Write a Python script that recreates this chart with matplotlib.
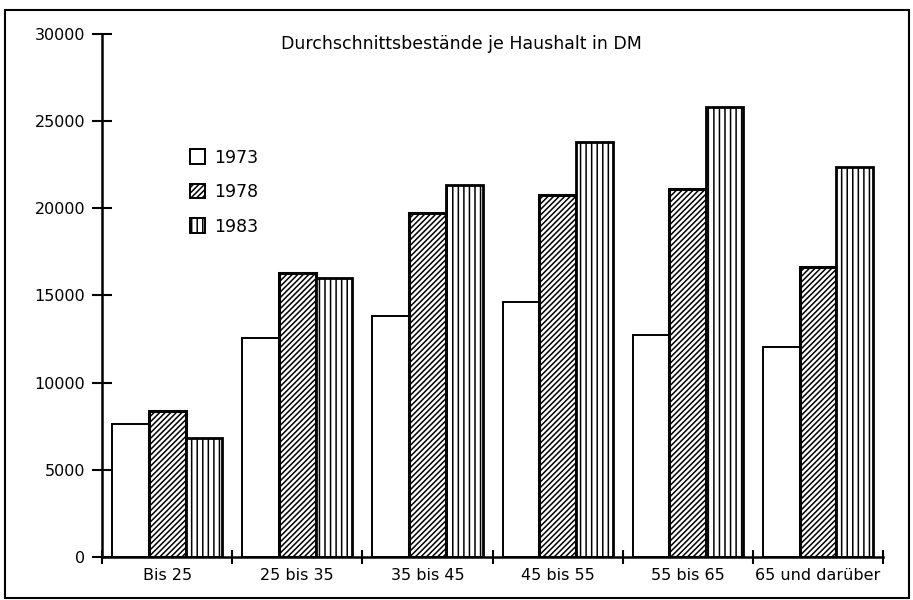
import matplotlib
matplotlib.use("Agg")
import matplotlib.pyplot as plt
import matplotlib.patches as mpatches
import numpy as np

# Durchschnittsbestände je Haushalt in DM, nach Alter
groups = ["Bis 25", "25 bis 35", "35 bis 45", "45 bis 55", "55 bis 65", "65 und darüber"]
years = ["1973", "1978", "1983"]
v1973 = [7650, 12550, 13820, 14620, 12730, 12040]
v1978 = [8400, 16280, 19730, 20760, 21100, 16630]
v1983 = [6800, 16000, 21330, 23800, 25800, 22360]
yticks = [0, 5000, 10000, 15000, 20000, 25000, 30000]

plt.rcParams['hatch.linewidth'] = 1.1
plt.rcParams['font.family'] = ['DejaVu Sans']

fig = plt.figure(figsize=(9.13, 6.0), dpi=100)
ax = fig.add_axes([102 / 913, 43 / 600, 781 / 913, 523 / 600])

x = np.arange(len(groups))
w = 36.7 / 130
off = 10 / 130
styles = [dict(hatch=None, lw=1.4),
          dict(hatch='//////', lw=2.2),
          dict(hatch='|||', lw=2.0)]
for k, vals in enumerate([v1973, v1978, v1983]):
    ax.bar(x + off + k * w, vals, width=w, align='edge', color='white',
           edgecolor='black', hatch=styles[k]['hatch'], linewidth=styles[k]['lw'])

ax.set_xlim(0, len(groups))
ax.set_ylim(0, 30000)
ax.set_yticks(yticks)
ax.set_yticklabels([str(t) for t in yticks], fontsize=11.5)
ax.set_xticks(np.arange(len(groups) + 1))
ax.set_xticklabels([])
ax.set_xticks(x + 0.5, minor=True)
ax.set_xticklabels(groups, minor=True, fontsize=11.5)
ax.tick_params(axis='x', which='minor', length=0, pad=8)
ax.tick_params(axis='x', which='major', direction='inout', length=10, width=1.5)
ax.tick_params(axis='y', direction='inout', length=14, width=1.5, pad=5)
for s in ['top', 'right']:
    ax.spines[s].set_visible(False)
for s in ['left', 'bottom']:
    ax.spines[s].set_linewidth(1.8)

fig.text(0.505, 1 - 44 / 600, "Durchschnittsbestände je Haushalt in DM",
         ha='center', va='center', fontsize=12.5)

handles = [mpatches.Patch(facecolor='white', edgecolor='black', hatch=st['hatch'], linewidth=1.4)
           for st in styles]
leg = ax.legend(handles, years, loc='upper left', bbox_to_anchor=(174 / 913, 1 - 133 / 600),
                bbox_transform=fig.transFigure, frameon=False, fontsize=12.5,
                handlelength=0.9, handleheight=0.9, handletextpad=0.5, labelspacing=0.95)

fig.patches.append(mpatches.Rectangle((5 / 913, 2 / 600), 904 / 913, 588 / 600,
                                      transform=fig.transFigure, fill=False,
                                      edgecolor='black', linewidth=1.5))

fig.savefig("out.png", dpi=100)
